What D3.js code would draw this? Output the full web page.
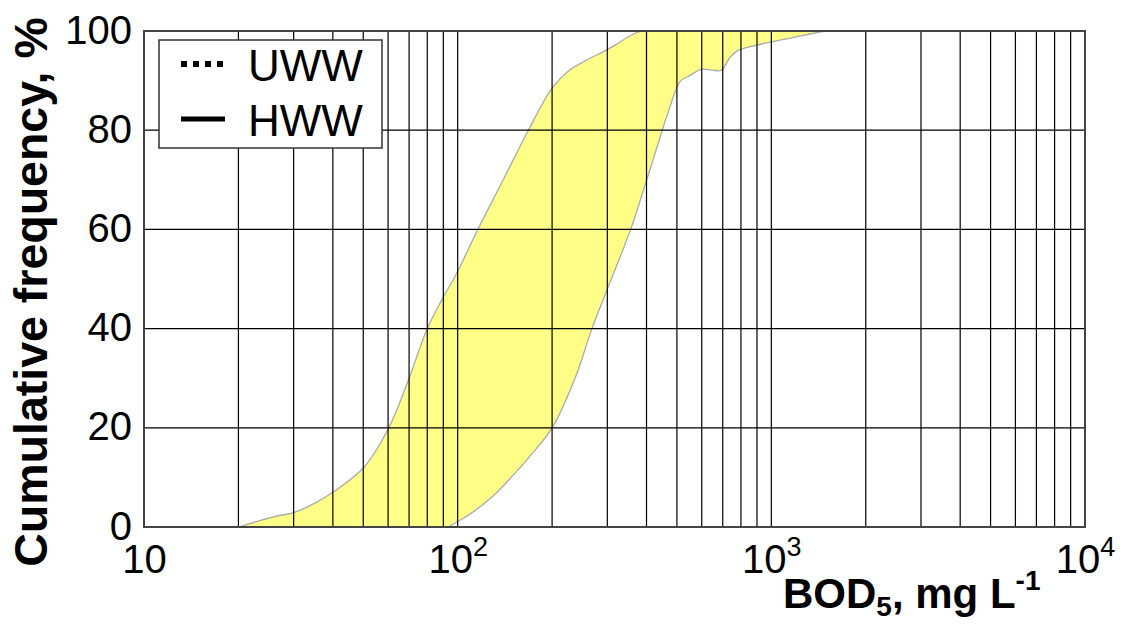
<!DOCTYPE html>
<html>
<head>
<meta charset="utf-8">
<script src="https://cdn.jsdelivr.net/npm/d3@7"></script>
<style>
  body { margin: 0; background: #fff; }
  text { font-family: "Liberation Sans", Arial, Helvetica, sans-serif; fill: #000; }
</style>
</head>
<body>
<svg id="chart" width="1126" height="624"></svg>
<script>
// Envelope of cumulative BOD5 distributions: left (lower-concentration) boundary
const leftBOD  = [20, 25.7, 30.3, 35.3, 40.4, 50.2, 60.3, 70, 80, 89, 99, 116, 141, 168, 200, 226, 252, 262, 299, 318, 359, 387];
const leftFreq = [0, 2.0, 3.0, 4.9, 7.2, 12.0, 20, 30, 40, 45.8, 51, 60, 70.5, 80, 88.5, 92, 93.8, 94.4, 96.2, 97.2, 99.2, 100];

// Right (higher-concentration) boundary
const rightBOD  = [93.3, 100, 110, 131, 150, 168, 200, 237, 268, 298, 356, 397, 449, 471, 497, 513, 545, 602, 648, 694, 733, 779, 891, 1138, 1455, 1531];
const rightFreq = [0, 1.1, 2.7, 6.5, 10.4, 13.9, 20, 30.1, 40, 47.5, 60, 69.2, 80, 84, 88.2, 89.9, 90.9, 92.3, 92.1, 92.1, 94.4, 96.0, 97.1, 98.5, 99.9, 100];

const xTickValues = [10, 100, 1000, 10000];
const xTickExponents = ["", "2", "3", "4"];
const yTickValues = [0, 20, 40, 60, 80, 100];
const yGridValues = [20, 40, 60, 80];
const legendItems = [
  { label: "UWW", dash: "6,6" },
  { label: "HWW", dash: null }
];

const svg = d3.select("#chart");
const plot = { left: 144, right: 1085, top: 31, bottom: 527 };

const x = d3.scaleLog().domain([10, 10000]).range([plot.left, plot.right]);
const y = d3.scaleLinear().domain([0, 100]).range([plot.bottom, plot.top]);

// clip region = plot area
svg.append("defs").append("clipPath").attr("id", "plotClip")
  .append("rect")
  .attr("x", plot.left).attr("y", plot.top)
  .attr("width", plot.right - plot.left).attr("height", plot.bottom - plot.top);

// band polygon: up the left boundary, back down the right boundary
const leftPts = leftBOD.map((v, i) => [v, leftFreq[i]]);
const rightPts = rightBOD.map((v, i) => [v, rightFreq[i]]).reverse();
const bandPts = leftPts.concat(rightPts);

const bandLine = d3.line()
  .x(d => x(d[0]))
  .y(d => y(d[1]))
  .curve(d3.curveCatmullRom.alpha(0.5));

svg.append("path")
  .attr("clip-path", "url(#plotClip)")
  .attr("d", bandLine(bandPts) + "Z")
  .attr("fill", "#ffff88")
  .attr("stroke", "#aaaaaa")
  .attr("stroke-width", 1.3);

// grid
const grid = svg.append("g").attr("stroke", "#000").attr("stroke-width", 1.2);
grid.selectAll("line.v")
  .data(x.ticks().filter(v => v > 10 && v < 10000))
  .join("line")
  .attr("class", "v")
  .attr("x1", d => x(d)).attr("x2", d => x(d))
  .attr("y1", plot.top).attr("y2", plot.bottom);
grid.selectAll("line.h")
  .data(yGridValues)
  .join("line")
  .attr("class", "h")
  .attr("x1", plot.left).attr("x2", plot.right)
  .attr("y1", d => y(d)).attr("y2", d => y(d));

// frame
svg.append("rect")
  .attr("x", plot.left).attr("y", plot.top)
  .attr("width", plot.right - plot.left).attr("height", plot.bottom - plot.top)
  .attr("fill", "none").attr("stroke", "#444").attr("stroke-width", 2);

// y axis
const yAxis = svg.append("g")
  .attr("transform", `translate(${plot.left},0)`)
  .call(d3.axisLeft(y).tickValues(yTickValues).tickSize(0).tickPadding(12));
yAxis.select(".domain").remove();
yAxis.selectAll("text")
  .attr("font-size", 40)
  .attr("dy", "0.3em")
  .attr("font-family", "Liberation Sans, Arial, sans-serif")
  .attr("fill", "#000");

// x axis with power-of-ten labels
const xAxis = svg.append("g")
  .attr("transform", `translate(0,${plot.bottom})`)
  .call(d3.axisBottom(x).tickValues(xTickValues).tickSize(0).tickFormat(() => ""));
xAxis.select(".domain").remove();
xAxis.selectAll(".tick text").each(function(d, i) {
  const t = d3.select(this)
    .text(null)
    .attr("y", 0).attr("dy", null)
    .attr("transform", "translate(0,46)")
    .attr("font-size", 40)
    .attr("font-family", "Liberation Sans, Arial, sans-serif")
    .attr("fill", "#000")
    .attr("text-anchor", "middle");
  t.append("tspan").text("10");
  if (xTickExponents[i]) {
    t.append("tspan").attr("font-size", 27).attr("dy", -17).text(xTickExponents[i]);
  }
});

// axis titles
svg.append("text")
  .attr("transform", `translate(47,${(plot.top + plot.bottom) / 2 + 13}) rotate(-90)`)
  .attr("text-anchor", "middle")
  .attr("font-size", 46.5)
  .attr("font-weight", "bold")
  .text("Cumulative frequency, %");

const xTitle = svg.append("text")
  .attr("x", 783).attr("y", 608)
  .attr("font-size", 42)
  .attr("font-weight", "bold");
xTitle.append("tspan").text("BOD");
xTitle.append("tspan").attr("font-size", 28).attr("dy", 8).text("5");
xTitle.append("tspan").attr("dy", -8).text(", mg L");
xTitle.append("tspan").attr("font-size", 28).attr("dy", -18).text("-1");

// legend
const legend = svg.append("g");
legend.append("rect")
  .attr("x", 159).attr("y", 40).attr("width", 223).attr("height", 108)
  .attr("fill", "#fff").attr("stroke", "#333").attr("stroke-width", 1.5);
const rows = legend.selectAll("g.row").data(legendItems).join("g")
  .attr("class", "row")
  .attr("transform", (d, i) => `translate(0,${64 + i * 55})`);
rows.append("line")
  .attr("x1", 181).attr("x2", 225).attr("y1", 0).attr("y2", 0)
  .attr("stroke", "#000")
  .attr("stroke-width", d => d.dash ? 6 : 5)
  .attr("stroke-dasharray", d => d.dash);
rows.append("text")
  .attr("x", 248).attr("y", 17)
  .attr("font-size", 44)
  .text(d => d.label);
</script>
</body>
</html>
